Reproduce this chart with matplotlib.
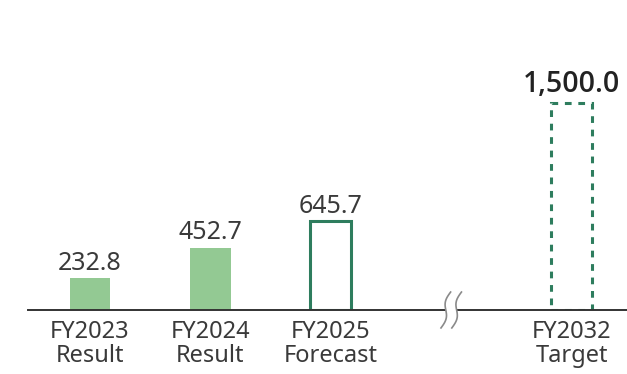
import numpy as np
import matplotlib.pyplot as plt
from matplotlib.patches import Rectangle

# datos
categorias = ["FY2023\nResult", "FY2024\nResult", "FY2025\nForecast", "FY2032\nTarget"]
posiciones = [0, 1, 2, 4]          # hueco en 3 para el corte del eje
valores = [232.8, 452.7, 645.7, 1500.0]
etiquetas = ["232.8", "452.7", "645.7", "1,500.0"]
estilos = ["result", "result", "forecast", "target"]

verde_claro = "#93c993"
verde_oscuro = "#2e7d5e"
gris_texto = "#3a3a3a"

plt.rcParams['font.family'] = ['Noto Sans', 'DejaVu Sans']

fig = plt.figure(figsize=(6.27, 3.74), dpi=100)
ax = fig.add_axes([28 / 627, 64 / 374, 599 / 627, 310 / 374])

ancho = 0.34
for x, v, e, lab in zip(posiciones, valores, estilos, etiquetas):
    if e == "result":
        ax.bar(x, v, width=ancho, color=verde_claro, edgecolor="none")
        ax.annotate(lab, (x, v), xytext=(0, 1.5), textcoords="offset points",
                    ha="center", va="bottom", fontsize=18, color=gris_texto)
    elif e == "forecast":
        ax.bar(x, v, width=ancho, facecolor="white", edgecolor=verde_oscuro,
               linewidth=2.2)
        ax.annotate(lab, (x, v), xytext=(0, 1.5), textcoords="offset points",
                    ha="center", va="bottom", fontsize=18, color=gris_texto)
    else:
        ax.bar(x, v, width=ancho, facecolor="none", edgecolor=verde_oscuro,
               linewidth=2.2, linestyle=(0, (2.2, 2.2)))
        ax.annotate(lab, (x, v), xytext=(0, 2.5), textcoords="offset points",
                    ha="center", va="bottom", fontsize=20.5, fontweight="semibold",
                    family=["Open Sans", "DejaVu Sans"], color="#222222")

ax.set_xlim(-0.515, 4.46)
ax.set_ylim(0, 2246)
ax.set_xticks(posiciones)
ax.set_xticklabels(categorias, fontsize=17, color=gris_texto, linespacing=1.0)
ax.tick_params(axis="x", length=0, pad=7)
ax.set_yticks([])
for s in ["top", "right", "left"]:
    ax.spines[s].set_visible(False)
ax.spines["bottom"].set_color("#333333")
ax.spines["bottom"].set_linewidth(1.4)

# marcas de corte del eje (dos curvas onduladas)
ax.add_patch(Rectangle((3 - 0.045, -15), 0.09, 30, facecolor="white",
                       edgecolor="none", clip_on=False, zorder=3))
t = np.linspace(-1, 1, 60)
for dx in [-0.045, 0.045]:
    xs = 3 + dx - 0.04 * t + 0.022 * np.sin(t * np.pi)
    ys = -t * 130
    ax.plot(xs, ys, color="#8a8a8a", linewidth=1.2, clip_on=False, zorder=4)

fig.savefig("out.png", dpi=100)
